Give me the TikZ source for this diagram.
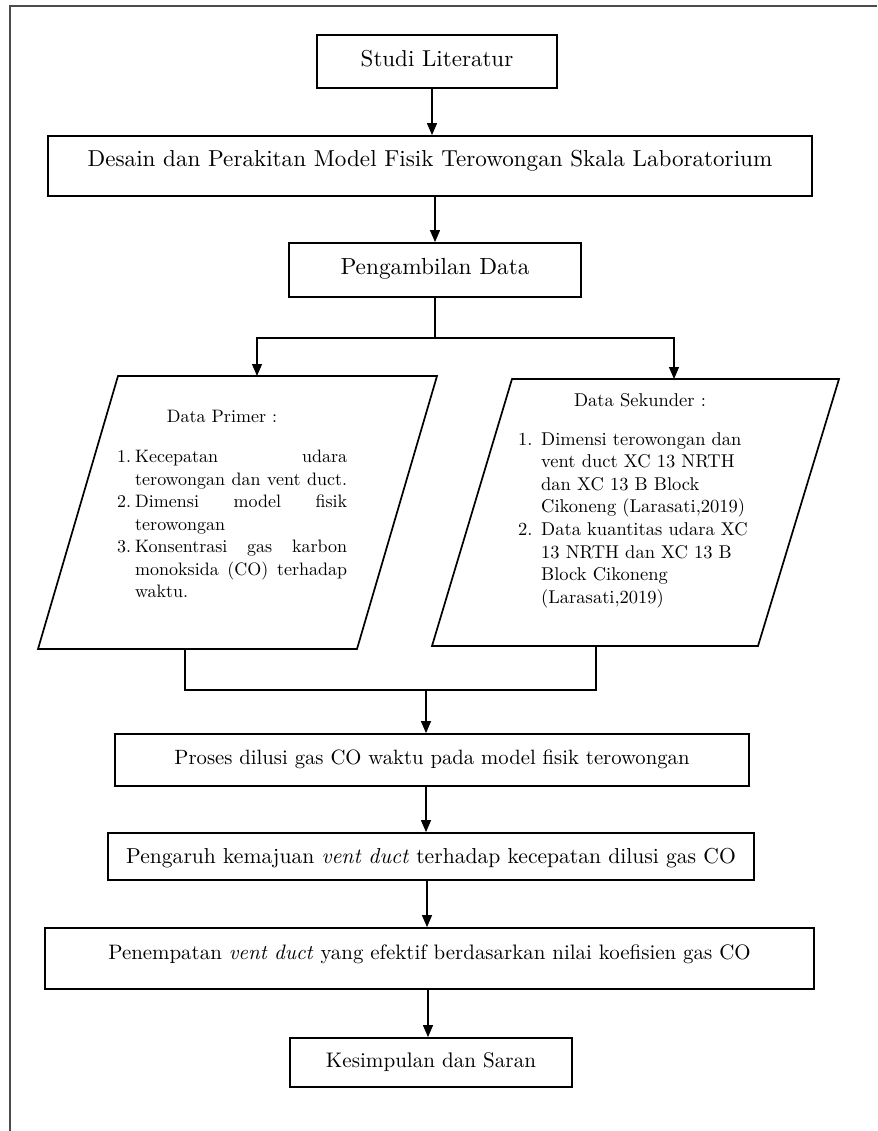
\documentclass[tikz,border=0pt]{standalone}
\usepackage{fontspec}
\setmainfont{lmroman10-regular}[Extension=.otf, ItalicFont=lmroman10-italic, BoldFont=lmroman10-bold]
\usetikzlibrary{arrows.meta,calc}
\begin{document}
\begin{tikzpicture}[x=1pt,y=-1pt,
  box/.style={draw, line width=1.8pt, inner sep=0pt, text height=15pt, text depth=4pt},
  arr/.style={line width=1.2pt, -{Triangle[length=12pt,width=10pt]}},
  conn/.style={line width=1.2pt},
  para/.style={draw, line width=1.7pt, line join=miter},
  frame/.style={line width=1.2pt, black!70},
  listtxt/.style={inner sep=0pt, anchor=base west},
  title/.style={inner sep=0pt, anchor=base, font=\fontsize{18}{22.5}\selectfont}]
\useasboundingbox (0,0) rectangle (877,1131);
% frame
\draw[frame] (877,6) -- (10,6) -- (10,1131);

% boxes
\node[box, minimum width=240pt, minimum height=53pt, text depth=4pt, font=\fontsize{23}{27}\selectfont] (studi) at (437,61.5) {Studi Literatur};
\node[box, minimum width=764pt, minimum height=60pt, text depth=13pt, font=\fontsize{23.1}{27}\selectfont] (desain) at (430,166) {Desain dan Perakitan Model Fisik Terowongan Skala Laboratorium};
\node[box, minimum width=292pt, minimum height=54pt, text depth=5pt, font=\fontsize{23.3}{27}\selectfont] (ambil) at (435,270) {Pengambilan Data};
\node[box, minimum width=634pt, minimum height=52pt, text depth=7pt, font=\fontsize{20.7}{25}\selectfont] (proses) at (432,760) {Proses dilusi gas CO waktu pada model fisik terowongan};
\node[box, minimum width=646pt, minimum height=47pt, text depth=2pt, font=\fontsize{21.6}{25}\selectfont] (pengaruh) at (431,856.5) {Pengaruh kemajuan \textit{vent duct} terhadap kecepatan dilusi gas CO\hspace{22pt}};
\node[box, minimum width=769pt, minimum height=61pt, text depth=14pt, font=\fontsize{20.9}{25}\selectfont] (tempat) at (429.5,958.5) {Penempatan \textit{vent duct} yang efektif berdasarkan nilai koefisien gas CO};
\node[box, minimum width=282pt, minimum height=49pt, text depth=6pt, font=\fontsize{21.1}{25}\selectfont] (simpul) at (431,1062.5) {Kesimpulan dan Saran};

% parallelograms
\coordinate (lTL) at (118,376); \coordinate (lTR) at (437,376);
\coordinate (lBR) at (357,649); \coordinate (lBL) at (38,649);
\coordinate (rTL) at (512,379); \coordinate (rTR) at (839,379);
\coordinate (rBR) at (758,646); \coordinate (rBL) at (432,646);
\draw[para] (lTL) -- (lTR) -- (lBR) -- (lBL) -- cycle;
\draw[para] (rTL) -- (rTR) -- (rBR) -- (rBL) -- cycle;
\coordinate (lTop) at (257,376); \coordinate (rTop) at (674,379);
\coordinate (lBot) at (185,649); \coordinate (rBot) at (596,646);

\node[title] (primer) at (222,422) {Data Primer :};
\node[listtxt, font=\fontsize{18}{22.5}\selectfont] (primerlist) at (117,462.5) {%
\begin{tabular}[t]{@{}l@{}l@{}}
\makebox[18pt][l]{1.} & \makebox[212pt][s]{Kecepatan udara}\\
 & \makebox[212pt][s]{terowongan dan vent duct.}\\
\makebox[18pt][l]{2.} & \makebox[212pt][s]{Dimensi model fisik}\\
 & terowongan\\
\makebox[18pt][l]{3.} & \makebox[212pt][s]{Konsentrasi gas karbon}\\
 & \makebox[212pt][s]{monoksida (CO) terhadap}\\
 & waktu.
\end{tabular}};

\node[title, font=\fontsize{18.5}{22.6}\selectfont] (sekunder) at (640,406) {Data Sekunder :};
\node[listtxt, font=\fontsize{18.5}{22.6}\selectfont] (sekunderlist) at (518,445) {%
\begin{tabular}[t]{@{}l@{}l@{}}
\makebox[23pt][l]{1.} & Dimensi terowongan dan\\
 & vent duct XC 13 NRTH\\
 & dan XC 13 B Block\\
 & Cikoneng (Larasati,2019)\\
\makebox[23pt][l]{2.} & Data kuantitas udara XC\\
 & 13 NRTH dan XC 13 B\\
 & Block Cikoneng\\
 & (Larasati,2019)
\end{tabular}};

% connectors
\draw[arr] ([xshift=-5pt]studi.south) -- ([xshift=-5pt]studi.south |- desain.north);
\draw[arr] (desain.south -| ambil.north) -- (ambil.north);
\coordinate (jTop) at ($(ambil.south)+(0,40)$);
\draw[conn] (ambil.south) -- (jTop);
\draw[arr] (jTop) -| (lTop);
\draw[arr] (jTop) -| (rTop);
\coordinate (jBot) at (426,690);
\draw[conn] (lBot) |- (jBot);
\draw[conn] (rBot) |- (jBot);
\draw[arr] (jBot) -- (jBot |- proses.north);
\draw[arr] ([xshift=-6pt]proses.south) -- ([xshift=-6pt]proses.south |- pengaruh.north);
\draw[arr] ([xshift=-4pt]pengaruh.south) -- ([xshift=-4pt]pengaruh.south |- tempat.north);
\draw[arr] ([xshift=-1.5pt]tempat.south) -- ([xshift=-1.5pt]tempat.south |- simpul.north);
\end{tikzpicture}
\end{document}
